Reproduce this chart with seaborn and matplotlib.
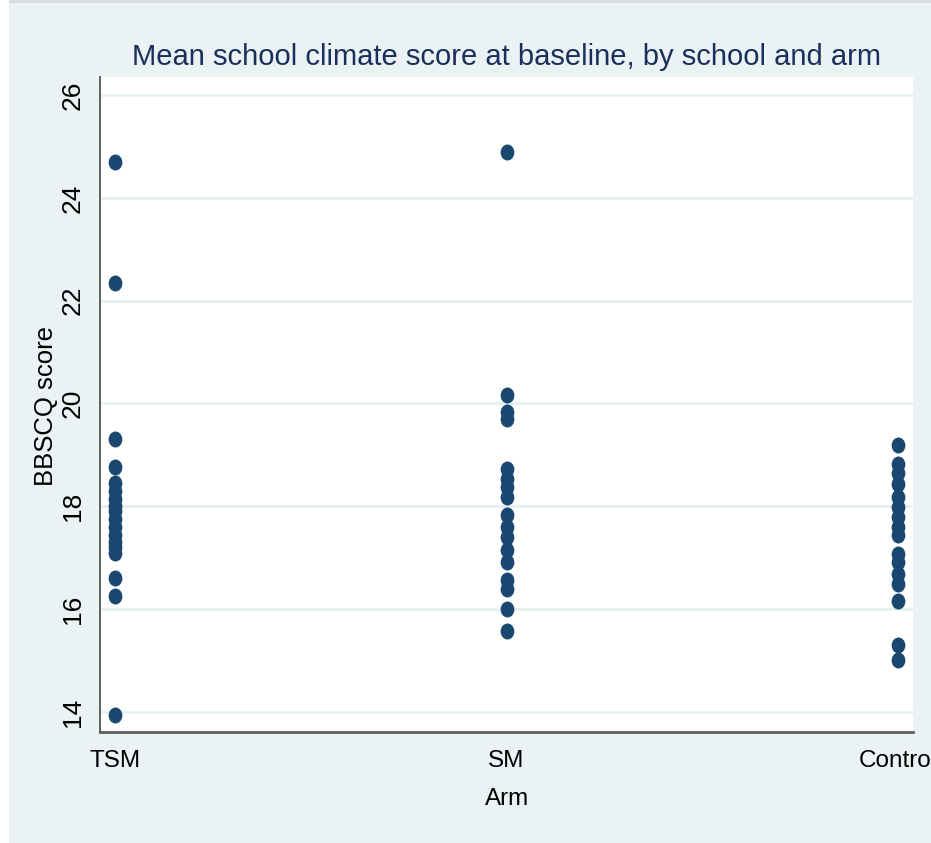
import pandas as pd
import matplotlib
matplotlib.use("Agg")
import matplotlib.pyplot as plt
import seaborn as sns
from matplotlib.path import Path
from matplotlib.transforms import Affine2D
from matplotlib.patches import Rectangle

# values
arms = ["TSM", "SM", "Control"]
tsm_scores = [24.7, 22.35, 19.3, 18.77, 18.45, 18.3, 18.15, 18.0, 17.9, 17.75,
              17.6, 17.45, 17.3, 17.2, 17.1, 16.6, 16.25, 13.95]
sm_scores = [24.9, 20.16, 19.84, 19.7, 18.73, 18.54, 18.37, 18.18, 17.83, 17.6,
             17.4, 17.15, 16.92, 16.56, 16.4, 16.0, 15.57]
control_scores = [19.19, 18.83, 18.64, 18.44, 18.18, 17.99, 17.79, 17.6, 17.44,
                  17.08, 16.92, 16.69, 16.49, 16.16, 15.31, 15.02]
y_ticks = [14, 16, 18, 20, 22, 24, 26]

df = pd.DataFrame({
    "arm": ["TSM"] * len(tsm_scores) + ["SM"] * len(sm_scores) + ["Control"] * len(control_scores),
    "score": tsm_scores + sm_scores + control_scores,
})

navy = "#1a476f"
bg = "#eaf2f3"
grid_col = "#e4eef0"
axis_col = "#5e5e5e"

sns.set_style("white")
plt.rcParams["font.family"] = ["Liberation Sans", "DejaVu Sans"]

W, H = 931, 843
fig = plt.figure(figsize=(W / 100, H / 100), dpi=100)
fig.patch.set_facecolor("white")
# stata-like outer region, kept behind the axes
fig.patches.append(Rectangle((9 / W, 0), 1 - 9 / W, 1 - 3 / H, transform=fig.transFigure,
                             facecolor=bg, edgecolor="none", zorder=-10))
fig.patches.append(Rectangle((9 / W, 1 - 3 / H), 1 - 9 / W, 3 / H, transform=fig.transFigure,
                             facecolor="#d9dddf", edgecolor="none", zorder=-10))

left, right, top, bottom = 100, 913, 77, 732
ax = fig.add_axes([left / W, 1 - bottom / H, (right - left) / W, (bottom - top) / H])
ax.set_zorder(5)
ax.set_facecolor("white")

# slightly tall oval dot like the reference
oval = Path.unit_circle().transformed(Affine2D().scale(0.86, 1.0))
sns.stripplot(data=df, x="arm", y="score", order=arms, jitter=False,
              color=navy, marker=oval, size=11.5, linewidth=0, ax=ax, zorder=3)

ax.set_xlim(-0.038, 2.038)
ax.set_ylim(13.61, 26.35)
ax.set_yticks(y_ticks)
ax.set_yticklabels([str(t) for t in y_ticks], rotation=90, va="center",
                   fontsize=19, color="black")
ax.set_xticks(range(len(arms)))
ax.set_xticklabels(arms, fontsize=17.5, color="black")
ax.set_xlabel("")
ax.set_ylabel("")

for t in y_ticks:
    ax.axhline(t, color=grid_col, lw=1.8, zorder=1)

for s in ["top", "right"]:
    ax.spines[s].set_visible(False)
ax.spines["left"].set_color(axis_col)
ax.spines["left"].set_linewidth(1.4)
ax.spines["bottom"].set_color(axis_col)
ax.spines["bottom"].set_linewidth(2.0)
ax.tick_params(axis="y", direction="out", length=7, width=1.2, color=axis_col, pad=4)
ax.tick_params(axis="x", direction="out", length=8, width=1.2, color=axis_col, pad=5)

fig.text(507 / W, 1 - 65 / H, "Mean school climate score at baseline, by school and arm",
         ha="center", va="baseline", fontsize=21, color="#1a2f5c")
fig.text(46 / W, 1 - 406 / H, "BBSCQ score", rotation=90, ha="center", va="center",
         fontsize=18.5, color="black")
fig.text(507 / W, 1 - 805 / H, "Arm", ha="center", va="baseline", fontsize=17.5, color="black")

fig.savefig("out.png", dpi=100, facecolor=fig.get_facecolor())
